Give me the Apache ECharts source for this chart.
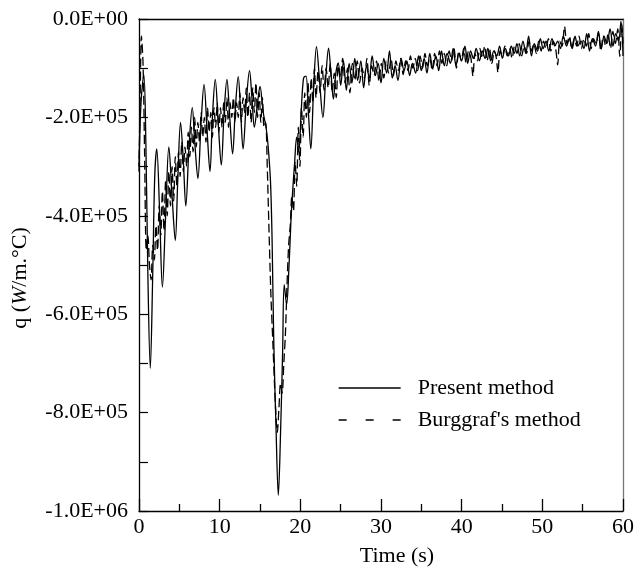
<!DOCTYPE html>
<html>
<head>
<meta charset="utf-8">
<script src="https://cdn.jsdelivr.net/npm/echarts@6/dist/echarts.min.js"></script>
<style>
html,body{margin:0;padding:0;background:#fff;}
#c{width:637px;height:572px;}
</style>
</head>
<body>
<div id="c"></div>
<script>
// ---- data: [time (s), q (W/m.°C)] ----
const seriesNames = ["Present method", "Burggraf's method"];
const xTicks = [0, 10, 20, 30, 40, 50, 60];
const yTicks = [0, -2e5, -4e5, -6e5, -8e5, -1e6];

const presentMethod = [
[0,-3.0e5],[0.25,-1.7e5],[0.6,-1.13e5],[0.85,-2.5e5],[1.1,-5.2e5],[1.4,-7.1e5],[1.7,-5.2e5],[1.95,-3.2e5],
[2.2,-2.64e5],[2.55,-3.9e5],[2.9,-5.45e5],[3.3,-4.0e5],[3.7,-2.6e5],[4.1,-3.6e5],[4.5,-4.5e5],[4.8,-3.3e5],
[5.15,-2.1e5],[5.5,-2.9e5],[5.8,-3.8e5],[6.2,-2.6e5],[6.6,-1.8e5],[6.95,-2.6e5],[7.3,-3.24e5],[7.7,-2.1e5],
[8.06,-1.33e5],[8.45,-2.3e5],[8.8,-3.1e5],[9.1,-2.0e5],[9.45,-1.23e5],[9.85,-2.2e5],[10.2,-2.97e5],[10.55,-1.9e5],
[10.9,-1.23e5],[11.25,-2.0e5],[11.6,-2.74e5],[11.95,-1.8e5],[12.3,-1.17e5],[12.6,-1.9e5],[12.9,-2.64e5],[13.3,-1.7e5],
[13.7,-1.05e5],[14.0,-1.6e5],[14.3,-2.2e5],[14.7,-1.7e5],[15.0,-1.37e5],[15.4,-1.9e5],[15.75,-2.2e5],[16.0,-2.57e5],
[16.3,-3.3e5],[16.5,-4.5e5],[16.7,-6.5e5],[17.0,-8.4e5],[17.27,-9.68e5],[17.55,-8.4e5],[17.8,-6.8e5],[18.0,-5.4e5],
[18.3,-5.8e5],[18.6,-5.0e5],[18.9,-3.9e5],[19.3,-2.9e5],[19.55,-2.4e5],[19.8,-2.7e5],[20.1,-1.9e5],[20.4,-1.2e5],
[20.7,-1.16e5],[21.0,-1.9e5],[21.3,-2.64e5],[21.65,-1.4e5],[22.0,-5.6e4],[22.4,-1.3e5],[22.8,-2.0e5],[23.15,-1.2e5],
[23.5,-5.9e4],[23.8,-1.1e5],[24.1,-1.63e5],[24.4,-1.1e5],[24.7,-8.9e4],
[25.0,-1.35e5],[25.35,-8.5e4],[25.7,-1.45e5],[26.05,-9.0e4],[26.4,-1.3e5],[26.75,-8.0e4],[27.1,-1.25e5],[27.5,-8.5e4],
[27.85,-1.4e5],[28.2,-9.5e4],[28.55,-1.2e5],[28.9,-7.5e4],[29.3,-1.15e5],[29.65,-9.0e4],[30.0,-1.3e5],[30.35,-8.0e4],
[30.7,-1.1e5],[31.05,-6.5e4],[31.4,-1.2e5],[31.75,-9.5e4],[32.1,-1.25e5],[32.5,-8.0e4],[32.85,-1.05e5],[33.2,-8.5e4],
[33.55,-1.15e5],[33.9,-9.0e4],[34.3,-1.1e5],[34.65,-7.5e4],[35.0,-1.05e5],[35.35,-8.0e4],[35.7,-1.1e5],[36.05,-7.0e4],
[36.4,-1.0e5],[36.8,-7.5e4],[37.15,-1.05e5],[37.5,-6.5e4],[37.85,-9.5e4],[38.2,-7.0e4],[38.6,-9.0e4],[38.95,-6.0e4],
[39.3,-9.5e4],[39.65,-7.0e4],[40.0,-8.5e4],[40.4,-5.5e4],[40.75,-9.0e4],[41.1,-6.5e4],[41.45,-8.0e4],[41.8,-6.0e4],
[42.2,-8.5e4],[42.55,-6.5e4],[42.9,-8.0e4],[43.25,-6.0e4],[43.6,-8.5e4],[44.0,-6.5e4],[44.35,-7.5e4],[44.7,-5.5e4],
[45.05,-8.0e4],[45.4,-6.0e4],[45.8,-7.5e4],[46.15,-5.5e4],[46.5,-7.0e4],[46.85,-5.0e4],[47.2,-7.5e4],[47.6,-4.5e4],
[47.95,-7.0e4],[48.3,-3.5e4],[48.65,-7.5e4],[49.0,-5.0e4],[49.4,-6.5e4],[49.75,-4.0e4],[50.1,-6.0e4],[50.45,-4.5e4],
[50.8,-6.5e4],[51.2,-4.0e4],[51.55,-5.5e4],[51.9,-4.5e4],[52.25,-6.0e4],[52.6,-3.5e4],[53.0,-5.5e4],[53.35,-4.0e4],
[53.7,-6.0e4],[54.05,-3.5e4],[54.4,-5.5e4],[54.8,-4.5e4],[55.15,-6.0e4],[55.5,-3.0e4],[55.85,-6.5e4],[56.2,-4.0e4],
[56.6,-5.5e4],[56.95,-2.5e4],[57.3,-6.0e4],[57.65,-3.5e4],[58.0,-5.0e4],[58.4,-2.0e4],[58.75,-5.5e4],[59.1,-3.0e4],
[59.45,-4.5e4],[59.75,-5e3],[60.0,-7.5e4]
];

const burggrafMethod = [
[0,-3.1e5],[0.15,-1.5e5],[0.3,-3.5e4],[0.5,-9e4],[0.7,-2.8e5],[0.9,-4.7e5],[1.1,-4.4e5],[1.3,-5.0e5],[1.5,-5.3e5],
[1.7,-4.6e5],[1.9,-4.9e5],[2.1,-4.2e5],[2.3,-4.7e5],[2.5,-3.8e5],[2.7,-4.4e5],[2.9,-3.5e5],[3.1,-4.3e5],[3.3,-3.3e5],
[3.5,-4.0e5],[3.7,-3.1e5],[3.9,-3.8e5],[4.1,-3.0e5],[4.3,-3.7e5],[4.5,-2.8e5],[4.7,-3.4e5],[4.9,-2.7e5],[5.1,-3.2e5],
[5.3,-2.5e5],[5.5,-3.1e5],[5.7,-2.6e5],[5.9,-3.0e5],[6.1,-2.3e5],[6.3,-2.8e5],[6.5,-2.2e5],[6.7,-2.7e5],[6.9,-2.0e5],
[7.1,-2.6e5],[7.3,-2.1e5],[7.5,-2.5e5],[7.7,-1.9e5],[7.9,-2.4e5],[8.1,-2.0e5],[8.3,-2.5e5],[8.5,-1.8e5],[8.7,-2.3e5],
[8.9,-1.9e5],[9.1,-2.4e5],[9.3,-1.8e5],[9.5,-2.2e5],[9.7,-1.7e5],[9.9,-2.3e5],[10.1,-1.8e5],[10.3,-2.2e5],[10.5,-1.7e5],
[10.7,-2.1e5],[10.9,-1.6e5],[11.1,-2.2e5],[11.3,-1.7e5],[11.5,-2.0e5],[11.7,-1.6e5],[11.9,-2.1e5],[12.1,-1.7e5],
[12.3,-2.0e5],[12.5,-1.5e5],[12.7,-2.1e5],[12.9,-1.6e5],[13.1,-1.9e5],[13.3,-1.4e5],[13.5,-2.0e5],[13.7,-1.5e5],
[13.9,-2.1e5],[14.1,-1.4e5],[14.3,-1.9e5],[14.5,-1.3e5],[14.7,-2.0e5],[14.9,-1.5e5],[15.1,-2.1e5],[15.3,-1.6e5],
[15.5,-2.2e5],[15.7,-2.1e5],[15.9,-3.0e5],[16.1,-4.2e5],[16.35,-5.6e5],[16.6,-6.6e5],[16.9,-7.8e5],[17.15,-8.4e5],
[17.35,-7.9e5],[17.55,-7.4e5],[17.75,-7.6e5],[17.95,-7.0e5],[18.15,-6.4e5],[18.35,-5.4e5],[18.55,-4.6e5],[18.75,-4.2e5],
[18.95,-3.6e5],[19.15,-3.9e5],[19.35,-2.9e5],[19.55,-3.4e5],[19.75,-2.2e5],[19.95,-3.0e5],[20.15,-1.8e5],[20.35,-2.4e5],
[20.55,-1.5e5],[20.75,-2.0e5],[20.95,-1.3e5],[21.15,-1.9e5],[21.35,-1.2e5],[21.55,-1.7e5],[21.75,-1.0e5],[21.95,-1.6e5],
[22.2,-1.05e5],[22.45,-1.5e5],[22.7,-9.5e4],[22.95,-1.45e5],[23.2,-1.0e5],[23.45,-1.4e5],[23.7,-9.0e4],[23.95,-1.5e5],
[24.2,-1.1e5],[24.45,-1.6e5],[24.7,-9.5e4],
[24.95,-1.2e5],[25.25,-8.0e4],[25.55,-1.3e5],[25.85,-1.0e5],[26.15,-1.5e5],[26.45,-9.0e4],[26.75,-1.25e5],[27.05,-8.5e4],
[27.35,-1.3e5],[27.65,-1.0e5],[27.95,-1.2e5],[28.25,-8.0e4],[28.55,-1.35e5],[28.85,-9.5e4],[29.15,-1.15e5],[29.45,-8.5e4],
[29.75,-1.27e5],[30.05,-9.0e4],[30.35,-1.2e5],[30.65,-8.5e4],[30.95,-1.1e5],[31.25,-8.0e4],[31.55,-1.15e5],[31.85,-8.5e4],
[32.15,-1.05e5],[32.45,-8.0e4],[32.75,-1.13e5],[33.05,-8.5e4],[33.35,-1.05e5],[33.65,-7.5e4],[33.95,-1.0e5],[34.25,-8.0e4],
[34.55,-1.05e5],[34.85,-7.5e4],[35.15,-1.0e5],[35.45,-7.0e4],[35.75,-9.5e4],[36.05,-8.0e4],[36.35,-1.05e5],[36.65,-7.0e4],
[36.95,-9.5e4],[37.25,-6.5e4],[37.55,-9.0e4],[37.85,-7.0e4],[38.15,-9.5e4],[38.45,-6.5e4],[38.75,-8.5e4],[39.05,-6.0e4],
[39.35,-1.0e5],[39.65,-6.5e4],[39.95,-8.5e4],[40.25,-6.0e4],[40.55,-9.0e4],[40.85,-6.5e4],[41.15,-8.0e4],[41.4,-1.16e5],
[41.65,-7.0e4],[41.95,-8.5e4],[42.25,-6.0e4],[42.55,-8.0e4],[42.85,-5.5e4],[43.15,-8.5e4],[43.45,-6.0e4],[43.75,-9.0e4],
[44.05,-6.5e4],[44.3,-8.0e4],[44.5,-1.09e5],[44.75,-6.5e4],[45.05,-7.5e4],[45.35,-5.5e4],[45.65,-7.5e4],[45.95,-6.0e4],
[46.25,-8.0e4],[46.55,-5.5e4],[46.85,-7.0e4],[47.15,-5.0e4],[47.45,-7.5e4],[47.75,-5.5e4],[48.05,-7.0e4],[48.35,-4.5e4],
[48.65,-6.5e4],[48.95,-5.0e4],[49.25,-7.0e4],[49.55,-4.5e4],[49.85,-6.5e4],[50.15,-4.5e4],[50.45,-6.0e4],[50.75,-4.0e4],
[51.05,-6.5e4],[51.35,-4.5e4],[51.65,-6.0e4],[51.9,-9.3e4],[52.15,-4.5e4],[52.45,-5.5e4],[52.75,-1.5e4],[53.05,-5.0e4],
[53.35,-3.5e4],[53.65,-6.0e4],[53.95,-4.0e4],[54.25,-5.5e4],[54.55,-3.5e4],[54.85,-6.0e4],[55.15,-4.0e4],[55.45,-5.5e4],
[55.75,-3.0e4],[56.05,-6.0e4],[56.35,-4.0e4],[56.65,-5.0e4],[56.95,-3.0e4],[57.25,-6.5e4],[57.55,-3.5e4],[57.85,-5.5e4],
[58.15,-3.0e4],[58.45,-6.0e4],[58.75,-2.5e4],[59.05,-5.0e4],[59.35,-2.0e4],[59.6,-7.6e4],[59.85,-1.0e4],[60.0,-5.0e4]
];

const FONT = "'Liberation Serif', 'Times New Roman', serif";

function sci(v) {
  if (v === 0) return '0.0E+00';
  const a = Math.abs(v);
  const e = Math.floor(Math.log10(a) + 1e-9);
  const m = v / Math.pow(10, e);
  return m.toFixed(1) + 'E' + (e >= 0 ? '+' : '-') + String(Math.abs(e)).padStart(2, '0');
}

const chart = echarts.init(document.getElementById('c'), null, {renderer: 'canvas'});
const option = {
  backgroundColor: '#fff',
  animation: false,
  grid: {left: 139, right: 14, top: 19, bottom: 56, containLabel: false},
  legend: {
    orient: 'vertical',
    left: 333,
    top: 372,
    itemWidth: 62,
    itemHeight: 14,
    itemGap: 10,
    data: [
      {name: seriesNames[0], lineStyle: {type: 'solid', width: 1.3}},
      {name: seriesNames[1], lineStyle: {type: [8, 19], width: 1.3}}
    ],
    itemStyle: {opacity: 0, borderWidth: 0},
    textStyle: {fontFamily: FONT, fontSize: 22, color: '#000', padding: [0, 0, 0, 12]}
  },
  xAxis: [{
    type: 'value', min: xTicks[0], max: xTicks[xTicks.length - 1], interval: 10,
    axisLine: {onZero: false, lineStyle: {color: '#000', width: 1.3}},
    axisTick: {inside: true, length: 12, lineStyle: {color: '#000', width: 1.3}},
    minorTick: {show: true, splitNumber: 2, length: 7, lineStyle: {color: '#000', width: 1.3}},
    splitLine: {show: false},
    axisLabel: {fontFamily: FONT, fontSize: 22, color: '#000', margin: 5},
    name: 'Time (s)', nameLocation: 'middle', nameGap: 34,
    nameTextStyle: {fontFamily: FONT, fontSize: 22, color: '#000', padding: [0, 0, 0, 32]}
  }, {
    type: 'value', position: 'top', min: 0, max: 60,
    axisLine: {show: true, onZero: false, lineStyle: {color: '#000', width: 1.3}},
    axisTick: {show: false}, axisLabel: {show: false}, splitLine: {show: false}
  }],
  yAxis: [{
    type: 'value', min: yTicks[yTicks.length - 1], max: yTicks[0], interval: 2e5,
    axisLine: {show: true, onZero: false, lineStyle: {color: '#000', width: 1.3}},
    axisTick: {inside: true, length: 9, lineStyle: {color: '#000', width: 1.2}},
    minorTick: {show: true, splitNumber: 2, length: 9, lineStyle: {color: '#000', width: 1.2}},
    splitLine: {show: false},
    axisLabel: {fontFamily: FONT, fontSize: 22, color: '#000', margin: 11, formatter: sci},
    name: '{n|q (}{i|W}{n|/m.°C)}', nameLocation: 'middle', nameGap: 108, nameRotate: 90,
    nameTextStyle: {
      color: '#000', padding: [0, 0, 0, -26],
      rich: {
        n: {fontFamily: FONT, fontSize: 22, color: '#000'},
        i: {fontFamily: FONT, fontSize: 22, color: '#000', fontStyle: 'italic'}
      }
    }
  }, {
    type: 'value', position: 'right', min: -1e6, max: 0,
    axisLine: {show: true, onZero: false, lineStyle: {color: '#777', width: 1.3}},
    axisTick: {show: false}, axisLabel: {show: false}, splitLine: {show: false}
  }],
  series: [{
    name: seriesNames[0], type: 'line', data: presentMethod,
    showSymbol: false, symbol: 'none', smooth: 0.35,
    lineStyle: {color: '#000', width: 1.3, type: 'solid'},
    itemStyle: {color: '#000'}
  }, {
    name: seriesNames[1], type: 'line', data: burggrafMethod,
    showSymbol: false, symbol: 'none', smooth: 0.3,
    lineStyle: {color: '#000', width: 1.3, type: [9, 4]},
    itemStyle: {color: '#000'}
  }]
};
chart.setOption(option);
</script>
</body>
</html>
